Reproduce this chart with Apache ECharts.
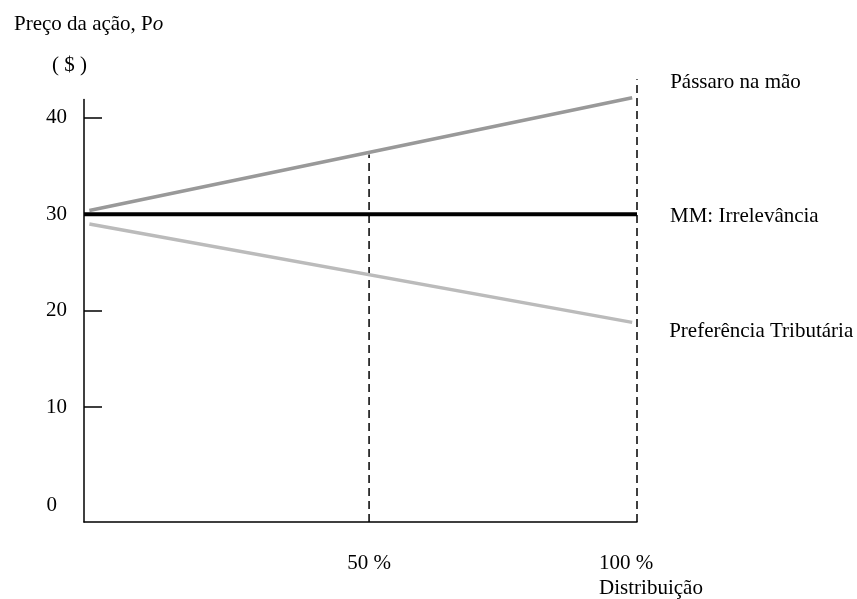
<!DOCTYPE html>
<html><head><meta charset="utf-8">
<script src="https://cdn.jsdelivr.net/npm/echarts@6/dist/echarts.min.js"></script>
<style>html,body{margin:0;padding:0;background:#fff}#c{width:857px;height:599px}</style>
</head><body><div id="c"></div>
<script>
// Data
const passaroX = [-2.2, 99.1];
const passaroY = [30.4, 42.1];
const mmX = [-3.2, 100];
const mmY = [30, 30];
const tribX = [-2.2, 99.1];
const tribY = [29.0, 18.8];
const dash50X = [50, 50];
const dash50Y = [-1.9, 36.2];
const dash100X = [100, 100];
const dash100Y = [-1.9, 44];
const yTickValues = [10, 20, 30, 40];
const yLabelValues = [0, 10, 20, 30, 40];
const xLabelValues = [50, 100];
const xLabelTexts = {50: '50 %', 100: '100 %'};
const xAxisTitle = 'Distribuição';
const seriesNames = ['Pássaro na mão', 'MM: Irrelevância', 'Preferência Tributária'];

const zip = (a, b) => a.map((v, i) => [v, b[i]]);
const FONT = 'Liberation Serif';
const FS = 21;
const chart = echarts.init(document.getElementById('c'));
chart.setOption({
  animation: false,
  textStyle: {fontFamily: FONT, color: '#000'},
  title: [
    {text: '{a|Preço da ação, P}{i|o}', left: 9, top: 9,
     textStyle: {fontWeight: 'normal', rich: {a: {fontFamily: FONT, fontSize: FS, fontWeight: 'normal', color: '#000'}, i: {fontFamily: FONT, fontSize: FS, fontWeight: 'normal', fontStyle: 'italic', color: '#000'}}}},
    {text: '( $ )', left: 47, top: 50, textStyle: {fontFamily: FONT, fontSize: FS, fontWeight: 'normal', color: '#000'}}
  ],
  grid: {left: 84, right: 220, top: 99.6, bottom: 76},
  xAxis: {
    type: 'value', min: -3.2, max: 100,
    splitLine: {show: false},
    axisLine: {onZero: false, lineStyle: {color: '#000', width: 1.5}},
    axisTick: {show: false},
    axisLabel: {
      customValues: xLabelValues, margin: 29, fontFamily: FONT, fontSize: FS, color: '#000',
      formatter: v => v === 100 ? '{q|' + xLabelTexts[100] + '}\n{d|' + xAxisTitle + '}' : '{p|' + xLabelTexts[v] + '}',
      rich: {
        p: {fontFamily: FONT, fontSize: FS, color: '#000', lineHeight: 25},
        q: {fontFamily: FONT, fontSize: FS, color: '#000', lineHeight: 25, padding: [0, 50, 0, 28]},
        d: {fontFamily: FONT, fontSize: FS, color: '#000', lineHeight: 25, padding: [0, 0, 0, 28]}
      }
    }
  },
  yAxis: {
    type: 'value', min: -1.9, max: 41.9,
    splitLine: {show: false},
    axisLine: {show: true, onZero: false, lineStyle: {color: '#000', width: 1.5}},
    axisTick: {show: true, customValues: yTickValues, inside: true, length: 18, lineStyle: {color: '#000', width: 1.5}},
    axisLabel: {
      customValues: yLabelValues, margin: 17, fontFamily: FONT, fontSize: FS, color: '#000',
      formatter: v => v === 0 ? '{z|0}' : String(v),
      rich: {z: {fontFamily: FONT, fontSize: FS, color: '#000', padding: [3, 10, 0, 0]}}
    }
  },
  series: [
    {type: 'line', data: zip(dash50X, dash50Y), symbol: 'none', clip: false, silent: true,
     lineStyle: {color: '#000', width: 1.5, type: [8, 5]}},
    {type: 'line', data: zip(dash100X, dash100Y), symbol: 'none', clip: false, silent: true,
     lineStyle: {color: '#000', width: 1.5, type: [8, 5]}},
    {name: seriesNames[0], type: 'line', data: zip(passaroX, passaroY), symbol: 'none', clip: false,
     lineStyle: {color: '#999999', width: 3.5},
     endLabel: {show: true, formatter: seriesNames[0], distance: 0, offset: [38, -15], fontFamily: FONT, fontSize: FS, color: '#000'}},
    {name: seriesNames[1], type: 'line', data: zip(mmX, mmY), symbol: 'none', clip: false,
     lineStyle: {color: '#000', width: 4},
     endLabel: {show: true, formatter: seriesNames[1], distance: 0, offset: [33, 2], fontFamily: FONT, fontSize: FS, color: '#000'}},
    {name: seriesNames[2], type: 'line', data: zip(tribX, tribY), symbol: 'none', clip: false,
     lineStyle: {color: '#bbbbbb', width: 3.5},
     endLabel: {show: true, formatter: seriesNames[2], distance: 0, offset: [37, 9], fontFamily: FONT, fontSize: FS, color: '#000'}}
  ]
});
</script></body></html>
